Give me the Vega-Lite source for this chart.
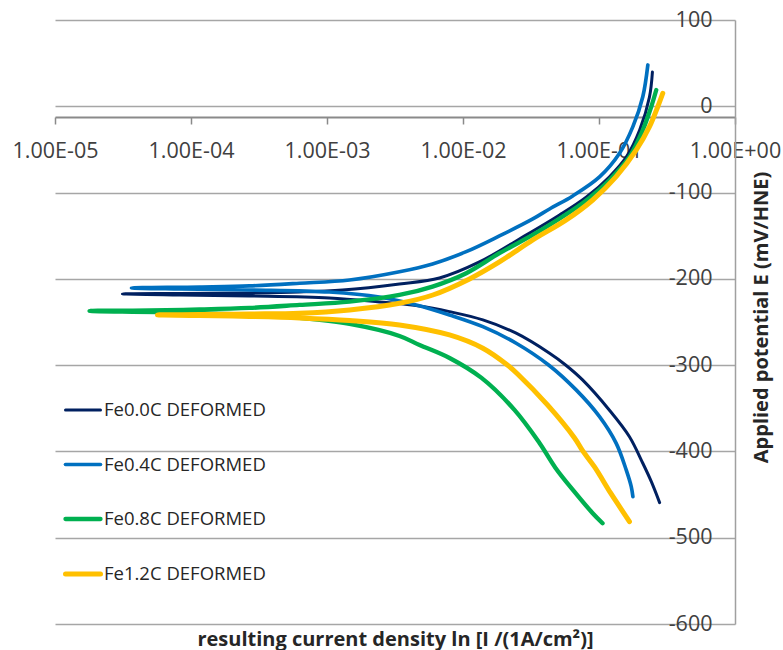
{
  "$schema": "https://vega.github.io/schema/vega-lite/v6.json",
  "autosize": {"type": "none"},
  "padding": {"left": 55, "top": 20, "right": 48, "bottom": 26},
  "width": 680,
  "height": 604,
  "background": "white",
  "config": {"font": "Open Sans", "view": {"stroke": null}},
  "data": {
    "values": [
      {"s": "Fe0.0C DEFORMED", "i": 1, "j": 0.279, "E": -459.3},
      {"s": "Fe0.0C DEFORMED", "i": 2, "j": 0.243, "E": -435.3},
      {"s": "Fe0.0C DEFORMED", "i": 3, "j": 0.210, "E": -413.7},
      {"s": "Fe0.0C DEFORMED", "i": 4, "j": 0.1675, "E": -382.9},
      {"s": "Fe0.0C DEFORMED", "i": 5, "j": 0.119, "E": -351.9},
      {"s": "Fe0.0C DEFORMED", "i": 6, "j": 0.0757, "E": -317.1},
      {"s": "Fe0.0C DEFORMED", "i": 7, "j": 0.0568, "E": -299.8},
      {"s": "Fe0.0C DEFORMED", "i": 8, "j": 0.0433, "E": -286.2},
      {"s": "Fe0.0C DEFORMED", "i": 9, "j": 0.0246, "E": -263.0},
      {"s": "Fe0.0C DEFORMED", "i": 10, "j": 0.0140, "E": -247.6},
      {"s": "Fe0.0C DEFORMED", "i": 11, "j": 0.00796, "E": -238.0},
      {"s": "Fe0.0C DEFORMED", "i": 12, "j": 0.00479, "E": -231.4},
      {"s": "Fe0.0C DEFORMED", "i": 13, "j": 0.00243, "E": -226.8},
      {"s": "Fe0.0C DEFORMED", "i": 14, "j": 0.00104, "E": -222.1},
      {"s": "Fe0.0C DEFORMED", "i": 15, "j": 0.000269, "E": -219.8},
      {"s": "Fe0.0C DEFORMED", "i": 16, "j": 0.0000823, "E": -218.7},
      {"s": "Fe0.0C DEFORMED", "i": 17, "j": 0.0000313, "E": -217.5},
      {"s": "Fe0.0C DEFORMED", "i": 18, "j": 0.0000823, "E": -216.9},
      {"s": "Fe0.0C DEFORMED", "i": 19, "j": 0.000269, "E": -216.3},
      {"s": "Fe0.0C DEFORMED", "i": 20, "j": 0.000628, "E": -215.2},
      {"s": "Fe0.0C DEFORMED", "i": 21, "j": 0.00130, "E": -212.9},
      {"s": "Fe0.0C DEFORMED", "i": 22, "j": 0.00341, "E": -205.9},
      {"s": "Fe0.0C DEFORMED", "i": 23, "j": 0.00671, "E": -199.0},
      {"s": "Fe0.0C DEFORMED", "i": 24, "j": 0.01321, "E": -180.4},
      {"s": "Fe0.0C DEFORMED", "i": 25, "j": 0.0260, "E": -153.8},
      {"s": "Fe0.0C DEFORMED", "i": 26, "j": 0.0513, "E": -126.0},
      {"s": "Fe0.0C DEFORMED", "i": 27, "j": 0.0809, "E": -105.1},
      {"s": "Fe0.0C DEFORMED", "i": 28, "j": 0.119, "E": -81.9},
      {"s": "Fe0.0C DEFORMED", "i": 29, "j": 0.159, "E": -58.7},
      {"s": "Fe0.0C DEFORMED", "i": 30, "j": 0.199, "E": -27.5},
      {"s": "Fe0.0C DEFORMED", "i": 31, "j": 0.235, "E": 10.8},
      {"s": "Fe0.0C DEFORMED", "i": 32, "j": 0.247, "E": 39.7},

      {"s": "Fe0.4C DEFORMED", "i": 1, "j": 0.1775, "E": -452.4},
      {"s": "Fe0.4C DEFORMED", "i": 2, "j": 0.1726, "E": -440.8},
      {"s": "Fe0.4C DEFORMED", "i": 3, "j": 0.1585, "E": -421.4},
      {"s": "Fe0.4C DEFORMED", "i": 4, "j": 0.1336, "E": -390.4},
      {"s": "Fe0.4C DEFORMED", "i": 5, "j": 0.1009, "E": -359.7},
      {"s": "Fe0.4C DEFORMED", "i": 6, "j": 0.0679, "E": -328.7},
      {"s": "Fe0.4C DEFORMED", "i": 7, "j": 0.0426, "E": -299.8},
      {"s": "Fe0.4C DEFORMED", "i": 8, "j": 0.0246, "E": -274.6},
      {"s": "Fe0.4C DEFORMED", "i": 9, "j": 0.0140, "E": -255.4},
      {"s": "Fe0.4C DEFORMED", "i": 10, "j": 0.00796, "E": -241.8},
      {"s": "Fe0.4C DEFORMED", "i": 11, "j": 0.00453, "E": -230.2},
      {"s": "Fe0.4C DEFORMED", "i": 12, "j": 0.00243, "E": -221.0},
      {"s": "Fe0.4C DEFORMED", "i": 13, "j": 0.00104, "E": -215.2},
      {"s": "Fe0.4C DEFORMED", "i": 14, "j": 0.000269, "E": -212.9},
      {"s": "Fe0.4C DEFORMED", "i": 15, "j": 0.0000823, "E": -211.7},
      {"s": "Fe0.4C DEFORMED", "i": 16, "j": 0.0000365, "E": -210.5},
      {"s": "Fe0.4C DEFORMED", "i": 17, "j": 0.0001155, "E": -209.4},
      {"s": "Fe0.4C DEFORMED", "i": 18, "j": 0.000269, "E": -208.2},
      {"s": "Fe0.4C DEFORMED", "i": 19, "j": 0.000628, "E": -205.1},
      {"s": "Fe0.4C DEFORMED", "i": 20, "j": 0.001464, "E": -201.3},
      {"s": "Fe0.4C DEFORMED", "i": 21, "j": 0.00341, "E": -191.7},
      {"s": "Fe0.4C DEFORMED", "i": 22, "j": 0.00597, "E": -182.7},
      {"s": "Fe0.4C DEFORMED", "i": 23, "j": 0.01056, "E": -168.5},
      {"s": "Fe0.4C DEFORMED", "i": 24, "j": 0.01853, "E": -150.3},
      {"s": "Fe0.4C DEFORMED", "i": 25, "j": 0.0326, "E": -130.6},
      {"s": "Fe0.4C DEFORMED", "i": 26, "j": 0.0433, "E": -119.0},
      {"s": "Fe0.4C DEFORMED", "i": 27, "j": 0.0641, "E": -103.9},
      {"s": "Fe0.4C DEFORMED", "i": 28, "j": 0.1009, "E": -81.9},
      {"s": "Fe0.4C DEFORMED", "i": 29, "j": 0.1416, "E": -54.5},
      {"s": "Fe0.4C DEFORMED", "i": 30, "j": 0.1775, "E": -23.6},
      {"s": "Fe0.4C DEFORMED", "i": 31, "j": 0.2099, "E": 11.1},
      {"s": "Fe0.4C DEFORMED", "i": 32, "j": 0.2286, "E": 47.9},

      {"s": "Fe0.8C DEFORMED", "i": 1, "j": 0.1062, "E": -483.2},
      {"s": "Fe0.8C DEFORMED", "i": 2, "j": 0.0895, "E": -471.3},
      {"s": "Fe0.8C DEFORMED", "i": 3, "j": 0.0661, "E": -446.9},
      {"s": "Fe0.8C DEFORMED", "i": 4, "j": 0.0479, "E": -419.1},
      {"s": "Fe0.8C DEFORMED", "i": 5, "j": 0.0365, "E": -390.2},
      {"s": "Fe0.8C DEFORMED", "i": 6, "j": 0.0239, "E": -351.9},
      {"s": "Fe0.8C DEFORMED", "i": 7, "j": 0.01368, "E": -314.8},
      {"s": "Fe0.8C DEFORMED", "i": 8, "j": 0.00796, "E": -291.7},
      {"s": "Fe0.8C DEFORMED", "i": 9, "j": 0.00479, "E": -276.6},
      {"s": "Fe0.8C DEFORMED", "i": 10, "j": 0.00341, "E": -266.2},
      {"s": "Fe0.8C DEFORMED", "i": 11, "j": 0.001464, "E": -252.3},
      {"s": "Fe0.8C DEFORMED", "i": 12, "j": 0.000628, "E": -245.3},
      {"s": "Fe0.8C DEFORMED", "i": 13, "j": 0.000269, "E": -241.8},
      {"s": "Fe0.8C DEFORMED", "i": 14, "j": 0.0000823, "E": -238.9},
      {"s": "Fe0.8C DEFORMED", "i": 15, "j": 0.00001795, "E": -237.2},
      {"s": "Fe0.8C DEFORMED", "i": 16, "j": 0.0000495, "E": -236.6},
      {"s": "Fe0.8C DEFORMED", "i": 17, "j": 0.0001155, "E": -235.5},
      {"s": "Fe0.8C DEFORMED", "i": 18, "j": 0.000269, "E": -233.7},
      {"s": "Fe0.8C DEFORMED", "i": 19, "j": 0.000628, "E": -230.2},
      {"s": "Fe0.8C DEFORMED", "i": 20, "j": 0.001464, "E": -226.4},
      {"s": "Fe0.8C DEFORMED", "i": 21, "j": 0.00341, "E": -218.7},
      {"s": "Fe0.8C DEFORMED", "i": 22, "j": 0.00597, "E": -209.0},
      {"s": "Fe0.8C DEFORMED", "i": 23, "j": 0.01056, "E": -193.5},
      {"s": "Fe0.8C DEFORMED", "i": 24, "j": 0.01853, "E": -170.3},
      {"s": "Fe0.8C DEFORMED", "i": 25, "j": 0.0326, "E": -149.1},
      {"s": "Fe0.8C DEFORMED", "i": 26, "j": 0.0433, "E": -137.5},
      {"s": "Fe0.8C DEFORMED", "i": 27, "j": 0.0757, "E": -112.4},
      {"s": "Fe0.8C DEFORMED", "i": 28, "j": 0.0959, "E": -99.3},
      {"s": "Fe0.8C DEFORMED", "i": 29, "j": 0.1194, "E": -85.4},
      {"s": "Fe0.8C DEFORMED", "i": 30, "j": 0.1675, "E": -58.4},
      {"s": "Fe0.8C DEFORMED", "i": 31, "j": 0.2099, "E": -27.5},
      {"s": "Fe0.8C DEFORMED", "i": 32, "j": 0.2421, "E": -0.5},
      {"s": "Fe0.8C DEFORMED", "i": 33, "j": 0.2636, "E": 18.9},

      {"s": "Fe1.2C DEFORMED", "i": 1, "j": 0.1675, "E": -481.3},
      {"s": "Fe1.2C DEFORMED", "i": 2, "j": 0.1416, "E": -464.0},
      {"s": "Fe1.2C DEFORMED", "i": 3, "j": 0.1216, "E": -448.1},
      {"s": "Fe1.2C DEFORMED", "i": 4, "j": 0.0927, "E": -418.0},
      {"s": "Fe1.2C DEFORMED", "i": 5, "j": 0.0757, "E": -399.1},
      {"s": "Fe1.2C DEFORMED", "i": 6, "j": 0.0661, "E": -384.4},
      {"s": "Fe1.2C DEFORMED", "i": 7, "j": 0.0418, "E": -346.1},
      {"s": "Fe1.2C DEFORMED", "i": 8, "j": 0.0252, "E": -310.2},
      {"s": "Fe1.2C DEFORMED", "i": 9, "j": 0.0212, "E": -299.8},
      {"s": "Fe1.2C DEFORMED", "i": 10, "j": 0.0140, "E": -280.4},
      {"s": "Fe1.2C DEFORMED", "i": 11, "j": 0.00796, "E": -265.0},
      {"s": "Fe1.2C DEFORMED", "i": 12, "j": 0.00341, "E": -253.4},
      {"s": "Fe1.2C DEFORMED", "i": 13, "j": 0.001464, "E": -248.2},
      {"s": "Fe1.2C DEFORMED", "i": 14, "j": 0.000628, "E": -245.3},
      {"s": "Fe1.2C DEFORMED", "i": 15, "j": 0.000269, "E": -243.6},
      {"s": "Fe1.2C DEFORMED", "i": 16, "j": 0.0001155, "E": -242.4},
      {"s": "Fe1.2C DEFORMED", "i": 17, "j": 0.0000567, "E": -241.8},
      {"s": "Fe1.2C DEFORMED", "i": 18, "j": 0.0001155, "E": -241.3},
      {"s": "Fe1.2C DEFORMED", "i": 19, "j": 0.000269, "E": -240.7},
      {"s": "Fe1.2C DEFORMED", "i": 20, "j": 0.000628, "E": -239.9},
      {"s": "Fe1.2C DEFORMED", "i": 21, "j": 0.001464, "E": -236.0},
      {"s": "Fe1.2C DEFORMED", "i": 22, "j": 0.00341, "E": -228.3},
      {"s": "Fe1.2C DEFORMED", "i": 23, "j": 0.0060, "E": -218.7},
      {"s": "Fe1.2C DEFORMED", "i": 24, "j": 0.01117, "E": -200.1},
      {"s": "Fe1.2C DEFORMED", "i": 25, "j": 0.01853, "E": -180.4},
      {"s": "Fe1.2C DEFORMED", "i": 26, "j": 0.0326, "E": -154.9},
      {"s": "Fe1.2C DEFORMED", "i": 27, "j": 0.0574, "E": -131.7},
      {"s": "Fe1.2C DEFORMED", "i": 28, "j": 0.0899, "E": -108.6},
      {"s": "Fe1.2C DEFORMED", "i": 29, "j": 0.1336, "E": -81.6},
      {"s": "Fe1.2C DEFORMED", "i": 30, "j": 0.188, "E": -50.6},
      {"s": "Fe1.2C DEFORMED", "i": 31, "j": 0.235, "E": -23.6},
      {"s": "Fe1.2C DEFORMED", "i": 32, "j": 0.2704, "E": -0.5},
      {"s": "Fe1.2C DEFORMED", "i": 33, "j": 0.2944, "E": 15.1}
    ]
  },
  "mark": {"type": "line", "interpolate": "catmull-rom", "strokeCap": "round", "strokeJoin": "round"},
  "encoding": {
    "x": {
      "field": "j",
      "type": "quantitative",
      "scale": {"type": "log", "domain": [0.00001, 1], "nice": false},
      "axis": {
        "orient": "bottom",
        "offset": -507,
        "values": [0.00001, 0.0001, 0.001, 0.01, 0.1, 1],
        "grid": false,
        "domainColor": "#8a8a8a",
        "domainWidth": 2,
        "tickColor": "#8a8a8a",
        "tickWidth": 1.5,
        "tickSize": 7,
        "labelFontSize": 21.5,
        "labelColor": "#404040",
        "labelPadding": 16,
        "labelFlush": false,
        "labelOverlap": false,
        "labelExpr": "'1.00E' + (datum.value >= 1 ? '+00' : '-0' + format(round(-log(datum.value) / LN10), 'd'))",
        "title": "resulting current density ln [I /(1A/cm²)]",
        "titleFontSize": 20,
        "titleFontWeight": "bold",
        "titleColor": "#262626",
        "titleX": 340,
        "titleY": 528,
        "titleAlign": "center",
        "titleBaseline": "alphabetic"
      }
    },
    "y": {
      "field": "E",
      "type": "quantitative",
      "scale": {"domain": [-600, 100], "nice": false, "zero": false},
      "axis": {
        "orient": "right",
        "values": [-600, -500, -400, -300, -200, -100, 0, 100],
        "grid": true,
        "gridColor": "#a6a6a6",
        "gridWidth": 1.3,
        "domainColor": "#a0a0a0",
        "domainWidth": 1.5,
        "ticks": false,
        "tickSize": 0,
        "labelAlign": "right",
        "labelBaseline": "middle",
        "labelPadding": -23,
        "labelFontSize": 21.5,
        "labelColor": "#404040",
        "labelFlush": false,
        "labelOverlap": false,
        "labelExpr": "'' + datum.value",
        "title": "Applied potential E (mV/HNE)",
        "titleAngle": 270,
        "titleX": 26,
        "titleY": 297,
        "titleAlign": "center",
        "titleBaseline": "middle",
        "titleFontSize": 20,
        "titleFontWeight": "bold",
        "titleColor": "#262626"
      }
    },
    "color": {
      "field": "s",
      "type": "nominal",
      "scale": {
        "domain": ["Fe0.0C DEFORMED", "Fe0.4C DEFORMED", "Fe0.8C DEFORMED", "Fe1.2C DEFORMED"],
        "range": ["#002060", "#0070C0", "#00B050", "#FFC000"]
      },
      "legend": {
        "orient": "none",
        "legendX": 8,
        "legendY": 371,
        "title": null,
        "padding": 0,
        "symbolType": "stroke",
        "symbolSize": 1225,
        "symbolStrokeWidth": 4,
        "labelFontSize": 18.5,
        "labelColor": "#262626",
        "labelOffset": 1,
        "labelLimit": 300,
        "rowPadding": 25,
        "encode": {
          "symbols": {
            "update": {
              "strokeWidth": {"signal": "datum.value == 'Fe0.0C DEFORMED' ? 3.3 : datum.value == 'Fe0.4C DEFORMED' ? 4.2 : datum.value == 'Fe0.8C DEFORMED' ? 5 : 6.5"},
              "strokeCap": {"value": "round"}
            }
          }
        }
      }
    },
    "strokeWidth": {
      "field": "s",
      "type": "nominal",
      "scale": {
        "domain": ["Fe0.0C DEFORMED", "Fe0.4C DEFORMED", "Fe0.8C DEFORMED", "Fe1.2C DEFORMED"],
        "range": [3, 5, 6, 9]
      },
      "legend": null
    },
    "order": {"field": "i", "type": "quantitative"}
  }
}
